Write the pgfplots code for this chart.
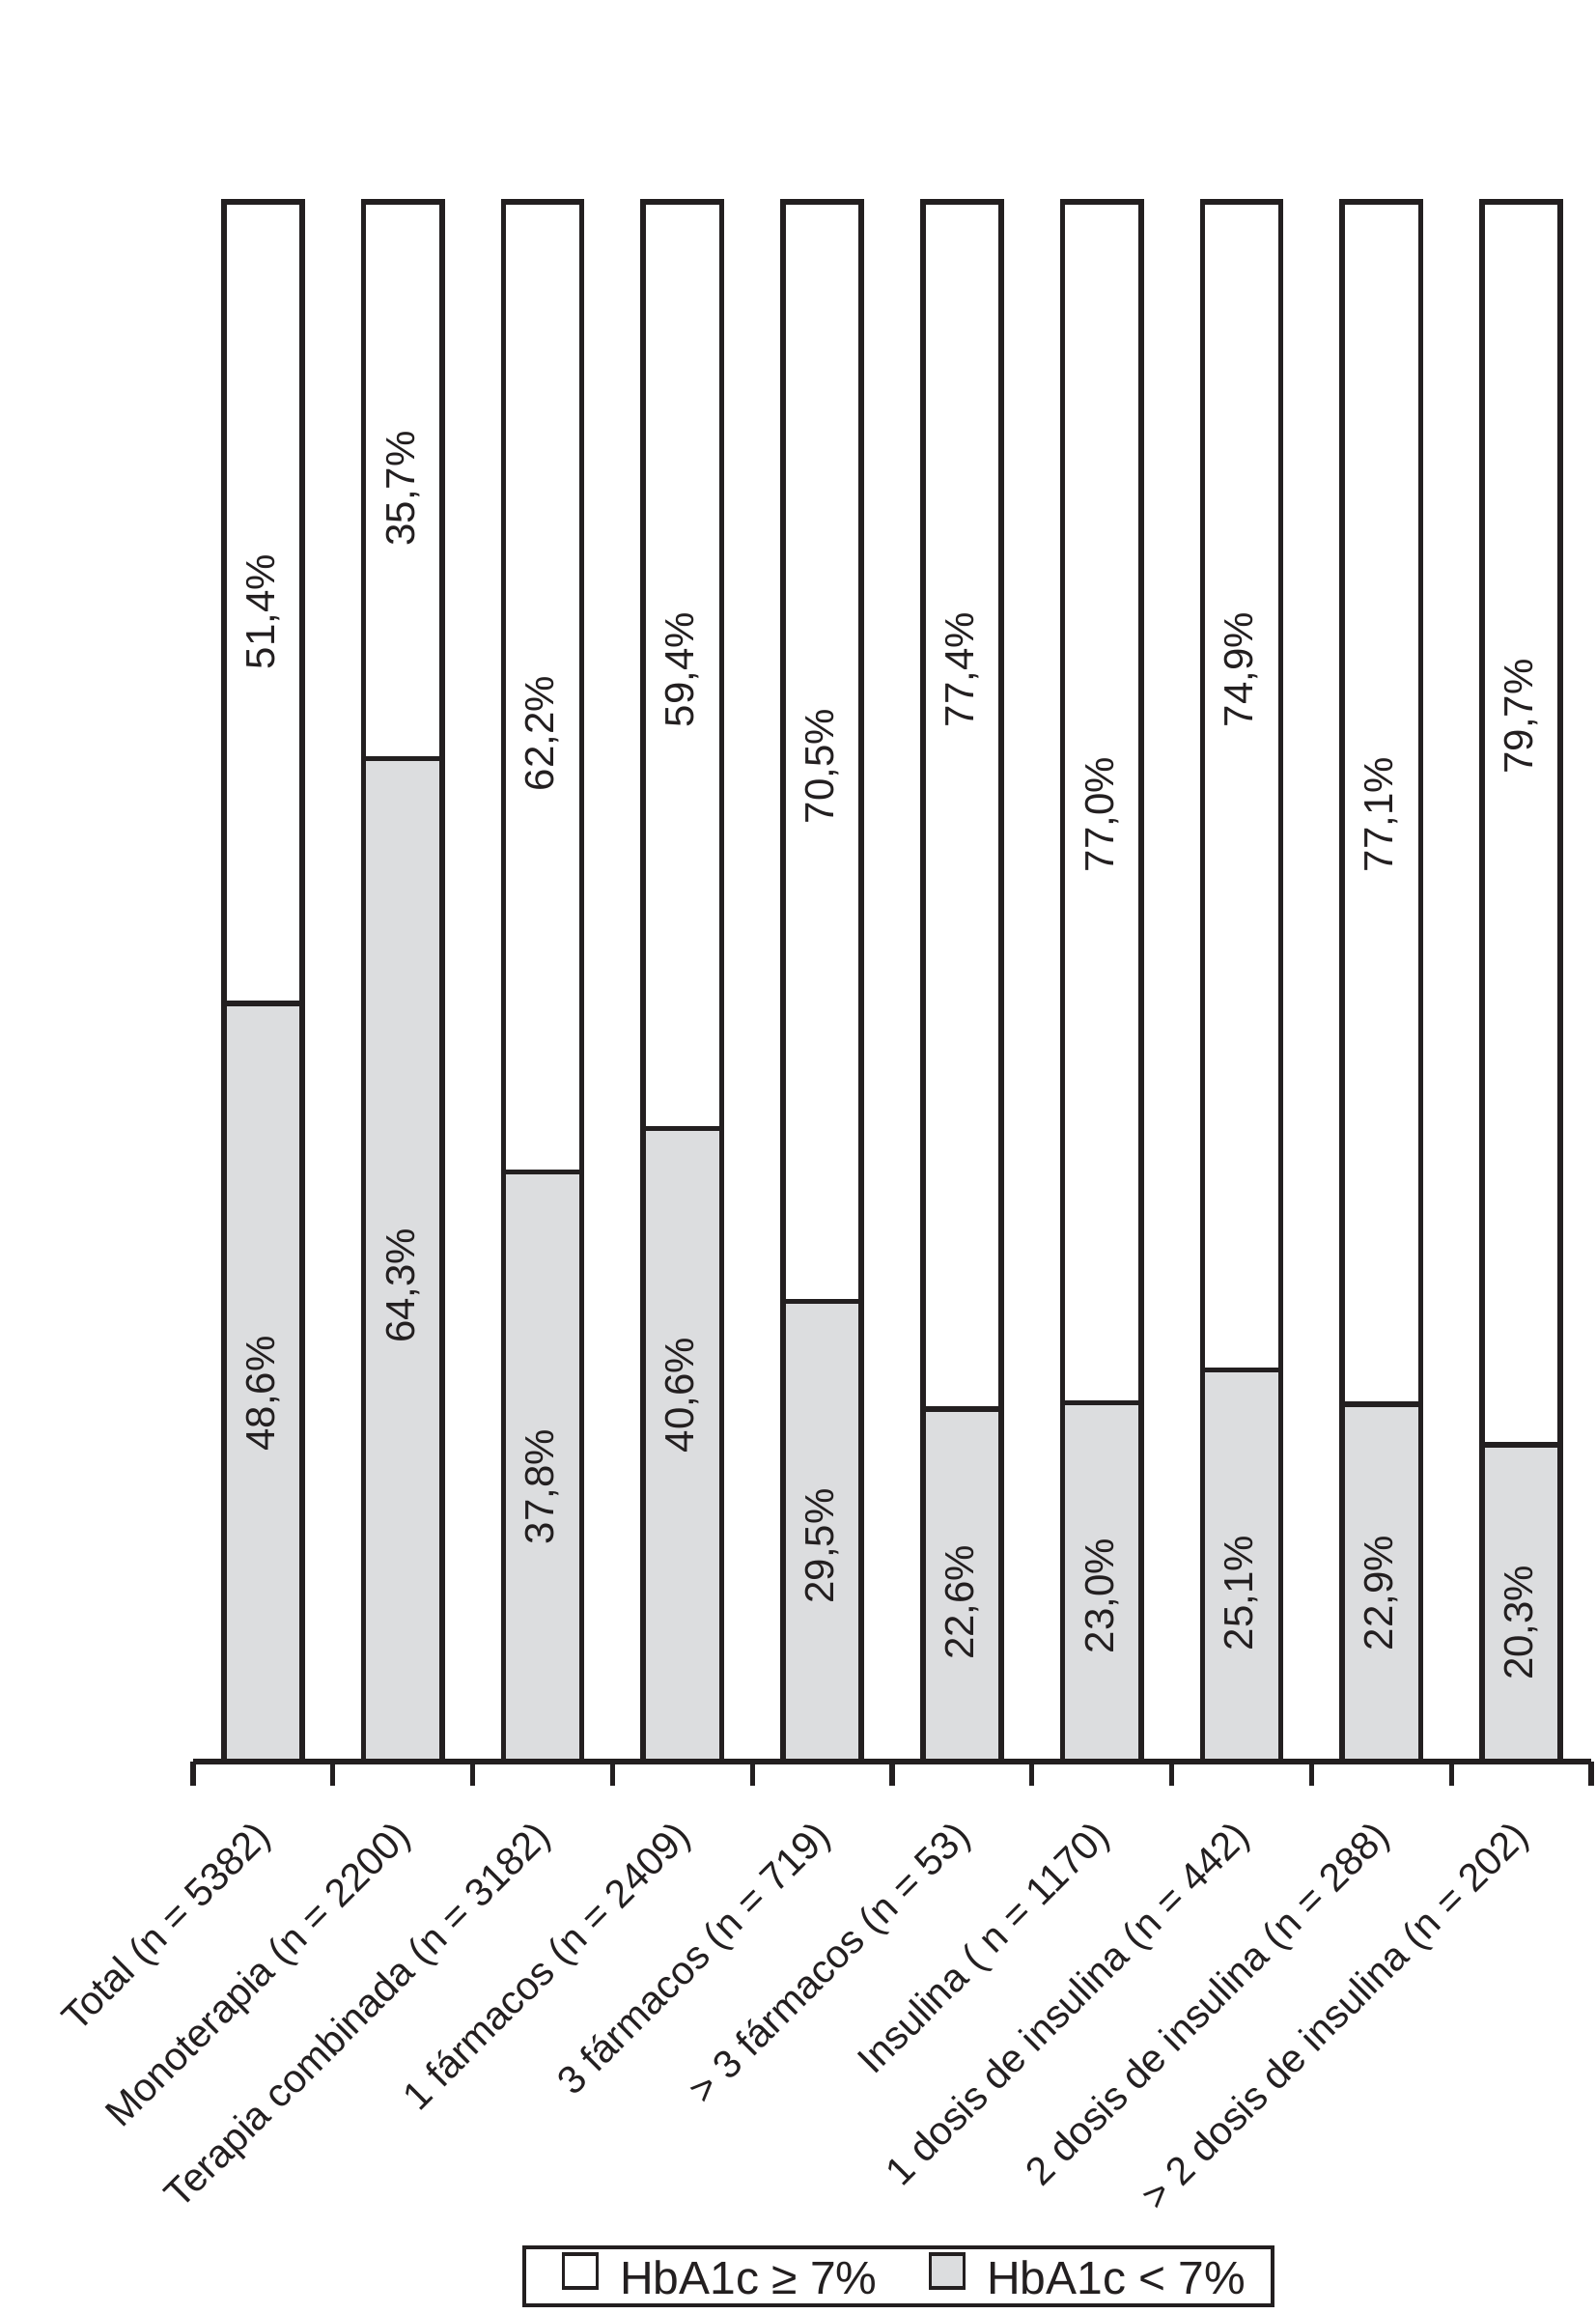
\documentclass[border=0pt]{standalone}
\usepackage{fontspec}
\setmainfont{Liberation Sans}
\usepackage{pgfplots}
\pgfplotsset{compat=1.18}
\usetikzlibrary{calc}

\definecolor{ink}{RGB}{35,31,32}
\definecolor{lowfill}{RGB}{220,221,223}

\begin{document}
\begin{tikzpicture}
\begin{axis}[
  width=362pt, height=403.75pt, scale only axis,
  xmin=0, xmax=10, ymin=0, ymax=100,
  ybar stacked, bar width=0.56,
  axis y line=none,
  axis x line*=bottom,
  x axis line style={line width=1.3pt, color=ink, -},
  xtick={0.5,1.5,...,9.5},
  xticklabels={Total (n = 5382), Monoterapia (n = 2200), Terapia combinada (n = 3182),
    1 fármacos (n = 2409), 3 fármacos (n = 719), > 3 fármacos (n = 53),
    Insulina ( n = 1170), 1 dosis de insulina (n = 442), 2 dosis de insulina (n = 288),
    > 2 dosis de insulina (n = 202)},
  minor xtick={0,1,...,10},
  xtick align=outside,
  major tick length=0pt,
  minor tick length=6.25pt,
  minor tick style={line width=1.3pt, color=ink},
  xticklabel style={font=\fontsize{10.2}{12}\selectfont, text=ink, inner sep=0pt,
    xshift=0.8pt, yshift=-18pt, rotate=45, anchor=east},
  clip=false,
  reverse legend,
  legend columns=2,
  legend style={at={(0.5045,-0.330)}, anchor=center, draw=ink, line width=1pt,
    font=\fontsize{12}{14}\selectfont, text=ink,
    inner xsep=7pt, inner ysep=1.3pt, nodes={inner sep=0pt},
    /tikz/every odd column/.append style={column sep=5.5pt},
    /tikz/every even column/.append style={column sep=10.5pt}},
  legend image code/.code={%
    \path (0pt,0pt);
    \draw[#1, line width=0.9pt] (2.5pt,-1.9pt) rectangle (11.25pt,6.85pt);},
]
\addplot[fill=lowfill, draw=ink, line width=1.4pt]
  coordinates {(0.5,48.6) (1.5,64.3) (2.5,37.8) (3.5,40.6) (4.5,29.5)
               (5.5,22.6) (6.5,23.0) (7.5,25.1) (8.5,22.9) (9.5,20.3)};
\addlegendentry{HbA1c < 7\%}
\addplot[fill=white, draw=ink, line width=1.4pt]
  coordinates {(0.5,51.4) (1.5,35.7) (2.5,62.2) (3.5,59.4) (4.5,70.5)
               (5.5,77.4) (6.5,77.0) (7.5,74.9) (8.5,77.1) (9.5,79.7)};
\addlegendentry{HbA1c ≥ 7\%}

% where the value labels go (upper segment, lower segment)
\coordinate (u1) at (axis cs:0.5,73.7);
\coordinate (u2) at (axis cs:1.5,81.6);
\coordinate (u3) at (axis cs:2.5,65.9);
\coordinate (u4) at (axis cs:3.5,70.0);
\coordinate (u5) at (axis cs:4.5,63.8);
\coordinate (u6) at (axis cs:5.5,70.0);
\coordinate (u7) at (axis cs:6.5,60.7);
\coordinate (u8) at (axis cs:7.5,70.0);
\coordinate (u9) at (axis cs:8.5,60.7);
\coordinate (u10) at (axis cs:9.5,67.0);
\coordinate (l1) at (axis cs:0.5,23.6);
\coordinate (l2) at (axis cs:1.5,30.5);
\coordinate (l3) at (axis cs:2.5,17.6);
\coordinate (l4) at (axis cs:3.5,23.5);
\coordinate (l5) at (axis cs:4.5,13.8);
\coordinate (l6) at (axis cs:5.5,10.2);
\coordinate (l7) at (axis cs:6.5,10.6);
\coordinate (l8) at (axis cs:7.5,10.8);
\coordinate (l9) at (axis cs:8.5,10.8);
\coordinate (l10) at (axis cs:9.5,8.9);

\coordinate (bl) at (rel axis cs:0,0);
\end{axis}

\tikzset{val/.style={rotate=90, font=\fontsize{10.5}{12}\selectfont, text=ink}}
\node[val] at (u1) {51,4\%};
\node[val] at (u2) {35,7\%};
\node[val] at (u3) {62,2\%};
\node[val] at (u4) {59,4\%};
\node[val] at (u5) {70,5\%};
\node[val] at (u6) {77,4\%};
\node[val] at (u7) {77,0\%};
\node[val] at (u8) {74,9\%};
\node[val] at (u9) {77,1\%};
\node[val] at (u10) {79,7\%};
\node[val] at (l1) {48,6\%};
\node[val] at (l2) {64,3\%};
\node[val] at (l3) {37,8\%};
\node[val] at (l4) {40,6\%};
\node[val] at (l5) {29,5\%};
\node[val] at (l6) {22,6\%};
\node[val] at (l7) {23,0\%};
\node[val] at (l8) {25,1\%};
\node[val] at (l9) {22,9\%};
\node[val] at (l10) {20,3\%};

\pgfresetboundingbox
\path[use as bounding box] ($(bl)+(-50pt,-143pt)$) rectangle ($(bl)+(363pt,456pt)$);
\end{tikzpicture}
\end{document}
